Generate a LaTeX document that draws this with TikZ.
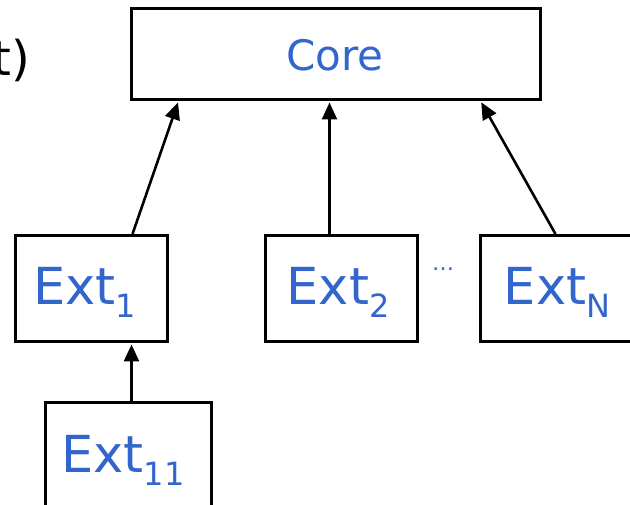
\documentclass[tikz,border=0pt]{standalone}
\usepackage{fontspec}
\setmainfont{DejaVu Sans}
\usetikzlibrary{arrows.meta}
\definecolor{txtblue}{RGB}{51,102,204}
\newcommand\extsub[1]{\raisebox{-13pt}{\fontsize{32}{34}\selectfont #1}}
\tikzset{
 box/.style={draw=black, line width=3pt, fill=white, inner sep=0pt, anchor=north west},
 lbl/.style={text=txtblue, font=\fontsize{51}{60}\selectfont, inner sep=0pt, anchor=base},
 conn/.style={line width=2.6pt, shorten >=1.5pt, -{Triangle[length=17pt,width=15pt]}},
}
\begin{document}
\begin{tikzpicture}[x=1pt,y=-1pt]
\clip (0,0) rectangle (630,505);
\fill[white] (0,0) rectangle (630,505);
\node[box, minimum width=409pt, minimum height=91pt] (core) at (130,7) {};
\node[box, minimum width=152pt, minimum height=106pt] (ext1) at (14,234) {};
\node[box, minimum width=152pt, minimum height=106pt] (ext2) at (264,234) {};
\node[box, minimum width=170pt, minimum height=106pt] (extn) at (479,234) {};
\node[box, minimum width=166pt, minimum height=130pt] (ext11) at (44,401) {};
\node[lbl, font=\fontsize{42}{50}\selectfont] (corel) at (335,71) {Core};
\node[lbl] (ext1l) at (84.5,305) {Ext\extsub{1}};
\node[lbl] (ext2l) at (338,305) {Ext\extsub{2}};
\node[lbl] (extnl) at (557,305) {Ext\extsub{N}};
\node[lbl] (ext11l) at (123,472) {Ext\extsub{11}};
\node[lbl, font=\fontsize{22}{26}\selectfont] (dots) at (443,271) {…};
\node[inner sep=0pt, anchor=base east, font=\fontsize{48}{56}\selectfont] (tl) at (30,76) {t)};
\draw[conn] ([xshift=41pt]ext1.north) -- ([xshift=-157.5pt]core.south);
\draw[conn] ([xshift=-12pt]ext2.north) -- ([xshift=-6.5pt]core.south);
\draw[conn] ([xshift=-10pt]extn.north) -- ([xshift=144.5pt]core.south);
\draw[conn] ([xshift=3pt]ext11.north) -- ([xshift=40pt]ext1.south);
\end{tikzpicture}
\end{document}
